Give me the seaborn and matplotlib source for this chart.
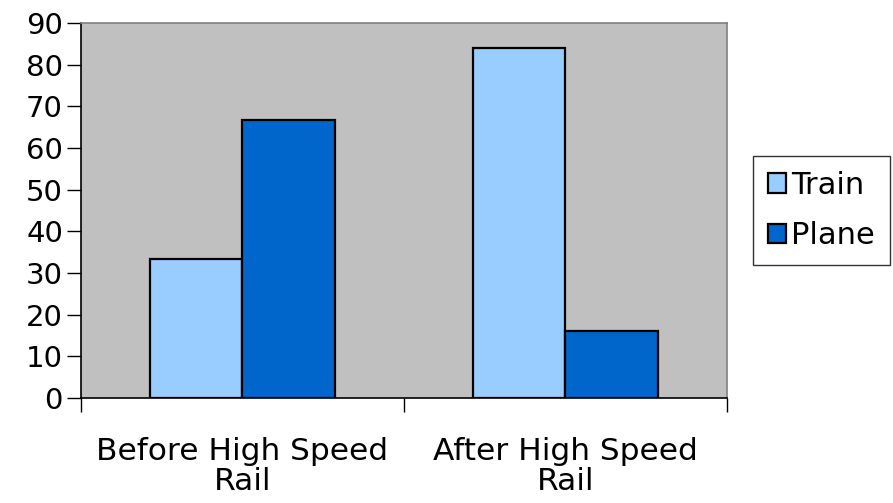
import matplotlib
matplotlib.use("Agg")
import matplotlib.pyplot as plt
import seaborn as sns
import pandas as pd

# data
periods = ["Before High Speed\nRail", "After High Speed\nRail"]
modes = ["Train", "Plane"]
train_share = [33.3, 84.0]
plane_share = [66.7, 16.0]
palette = {"Train": "#99CCFF", "Plane": "#0066CC"}

df = pd.DataFrame({
    "period": periods * 2,
    "mode": ["Train"] * 2 + ["Plane"] * 2,
    "share": train_share + plane_share,
})

sns.set_style("white")
plt.rcParams["font.family"] = ["DejaVu Sans"]
plt.rcParams["text.color"] = "black"

fig = plt.figure(figsize=(8.93, 5.03), dpi=100)
ax = fig.add_axes([0.0907, 0.209, 0.7234, 0.745])
sns.barplot(data=df, x="period", y="share", hue="mode", hue_order=modes,
            palette=palette, width=0.57, gap=0, edgecolor="black",
            linewidth=1.6, saturation=1, ax=ax)

ax.set_facecolor("#C0C0C0")
ax.set_ylim(0, 90)
ax.set_xlim(-0.5, 1.5)
ax.set_yticks(range(0, 91, 10))
ax.set_xlabel("")
ax.set_ylabel("")
ax.tick_params(axis="y", which="major", direction="out", length=10,
               width=1, color="black", labelsize=21, labelcolor="black",
               pad=3, left=True)
ax.set_xticks([-0.5, 0.5, 1.5], minor=True)
ax.tick_params(axis="x", which="minor", direction="out", length=10, width=1,
               color="black", bottom=True)
ax.tick_params(axis="x", which="major", length=0, labelsize=22.5,
               labelcolor="black", pad=28)
for lab in ax.get_xticklabels():
    lab.set_linespacing(1.05)
for s in ["left", "bottom"]:
    ax.spines[s].set_color("black")
    ax.spines[s].set_linewidth(1.2)
for s in ["top", "right"]:
    ax.spines[s].set_color("#808080")
    ax.spines[s].set_linewidth(1.2)

leg = ax.legend(title=None, loc="center left", bbox_to_anchor=(1.04, 0.5),
                fontsize=22, frameon=True, fancybox=False, edgecolor="black",
                handlelength=0.6, handleheight=0.6, handletextpad=0.15,
                borderpad=0.5, labelspacing=0.7, borderaxespad=0)
leg.get_frame().set_linewidth(1.0)

fig.savefig("out.png", dpi=100, facecolor="white")
